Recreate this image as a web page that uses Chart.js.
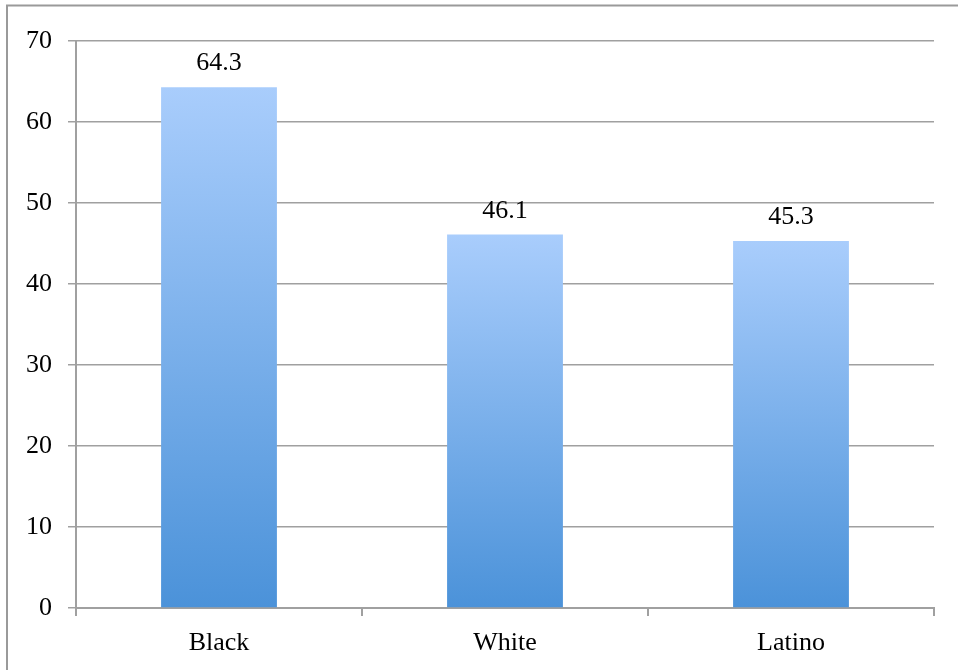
<!DOCTYPE html>
<html>
<head>
<meta charset="utf-8">
<style>
  html, body { margin: 0; padding: 0; background: #fff; }
  #wrap { width: 958px; height: 670px; position: relative; }
</style>
<script src="https://cdn.jsdelivr.net/npm/chart.js@4/dist/chart.umd.min.js"></script>
</head>
<body>
<div id="wrap"><canvas id="chart" width="958" height="670"></canvas></div>
<script>
const categories = ['Black', 'White', 'Latino'];
const values = [64.3, 46.1, 45.3];
const yTicks = [0, 10, 20, 30, 40, 50, 60, 70];

const font = { family: '"Liberation Serif", "Times New Roman", serif', size: 26 };
const gridColor = '#a0a0a0';

// outer frame (top and left edges only, as in the picture)
const framePlugin = {
    id: 'frame',
    beforeDraw(chart) {
        const ctx = chart.ctx;
        ctx.save();
        ctx.strokeStyle = '#9a9a9a';
        ctx.lineWidth = 2;
        ctx.beginPath();
        ctx.moveTo(7, 670);
        ctx.lineTo(7, 5.5);
        ctx.lineTo(958, 5.5);
        ctx.stroke();
        ctx.restore();
    }
};

// value labels above each bar
const labelPlugin = {
    id: 'barLabels',
    afterDatasetsDraw(chart) {
        const ctx = chart.ctx;
        const meta = chart.getDatasetMeta(0);
        ctx.save();
        ctx.fillStyle = '#000';
        ctx.font = `${font.size}px ${font.family}`;
        ctx.textAlign = 'center';
        ctx.textBaseline = 'alphabetic';
        meta.data.forEach((bar, i) => {
            ctx.fillText(values[i].toFixed(1), bar.x, bar.y - 17);
        });
        ctx.restore();
    }
};

function barGradient(context) {
    const area = context.chart.chartArea;
    if (!area) return '#7fb0ee';
    const y = context.chart.scales.y;
    const g = context.chart.ctx.createLinearGradient(0, y.getPixelForValue(values[context.dataIndex] || 0), 0, area.bottom);
    g.addColorStop(0, '#a9cdfc');
    g.addColorStop(1, '#4b92d9');
    return g;
}

new Chart(document.getElementById('chart'), {
    type: 'bar',
    data: {
        labels: categories,
        datasets: [{
            data: values,
            backgroundColor: barGradient,
            borderWidth: 0,
            categoryPercentage: 1,
            barPercentage: 0.405
        }]
    },
    options: {
        responsive: false,
        animation: false,
        layout: { padding: { top: 41, right: 24, bottom: 0, left: 0 } },
        plugins: { legend: { display: false }, tooltip: { enabled: false } },
        scales: {
            x: {
                grid: {
                    offset: true,
                    drawOnChartArea: false,
                    drawTicks: true,
                    tickLength: 8,
                    color: gridColor,
                    lineWidth: 2
                },
                border: { color: gridColor, width: 2 },
                ticks: { color: '#000', font: font, padding: 12 },
                afterFit(s) { s.height = 62; }
            },
            y: {
                min: 0,
                max: 70,
                afterBuildTicks(s) { s.ticks = yTicks.map(v => ({ value: v })); },
                grid: { color: gridColor, lineWidth: 1.5, tickLength: 8 },
                border: { color: gridColor, width: 2 },
                ticks: { color: '#000', font: font, padding: 16 },
                afterFit(s) { s.width = 76; }
            }
        }
    },
    plugins: [framePlugin, labelPlugin]
});
</script>
</body>
</html>
